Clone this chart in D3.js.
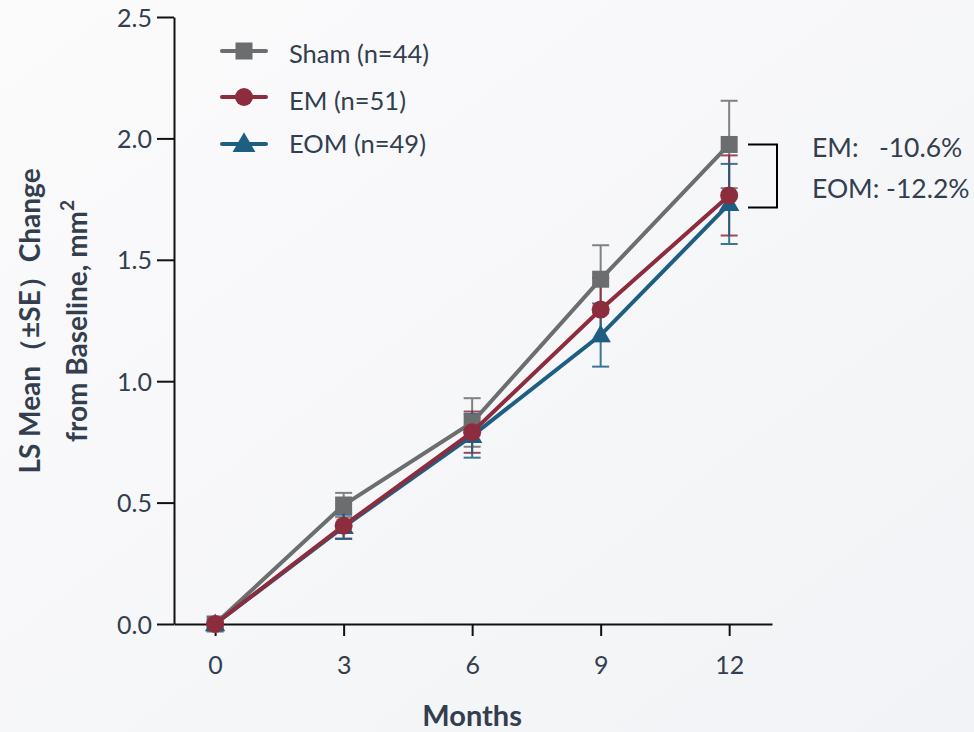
<!DOCTYPE html>
<html><head><meta charset="utf-8">
<script src="https://cdn.jsdelivr.net/npm/d3@7"></script>
<style>body{margin:0;background:#f6f7f9;}svg{display:block;}</style>
</head><body>
<script>
const months = [0, 3, 6, 9, 12];
const shamMean = [0.0, 0.49, 0.83, 1.42, 1.975];
const shamSE   = [0.0, 0.05, 0.10, 0.14, 0.18];
const emMean   = [0.0, 0.405, 0.79, 1.295, 1.765];
const emSE     = [0.0, 0.053, 0.085, 0.13, 0.165];
const eomMean  = [0.0, 0.40, 0.775, 1.19, 1.73];
const eomSE    = [0.0, 0.05, 0.09, 0.13, 0.165];
const yTicks = [0.0, 0.5, 1.0, 1.5, 2.0, 2.5];
const seriesNames = ["Sham (n=44)", "EM (n=51)", "EOM (n=49)"];
const annotLabels = ["EM:   -10.6%", "EOM: -12.2%"];

const W = 974, H = 732;
const textColor = "#333f4f";
const font = "Lato, 'Open Sans', sans-serif";
const series = [
  {name: seriesNames[0], mean: shamMean, se: shamSE, color: "#6b6d6e", shape: "square"},
  {name: seriesNames[1], mean: emMean, se: emSE, color: "#8c2c3c", shape: "circle"},
  {name: seriesNames[2], mean: eomMean, se: eomSE, color: "#1d5f83", shape: "triangle"}
];

const svg = d3.select("body").append("svg").attr("width", W).attr("height", H);
const defs = svg.append("defs");
const grad = defs.append("linearGradient").attr("id","bg").attr("x1","0").attr("y1","0").attr("x2","1").attr("y2","1");
grad.append("stop").attr("offset","0").attr("stop-color","#fbfbfc");
grad.append("stop").attr("offset","1").attr("stop-color","#f2f3f6");
svg.append("rect").attr("width",W).attr("height",H).attr("fill","url(#bg)");

const x = d3.scaleLinear().domain([-0.96, 13.0]).range([174, 772]);
const y = d3.scaleLinear().domain([0, 2.5]).range([624, 17]);

// axes
const xAxis = svg.append("g").attr("transform", `translate(0,${y(0)})`)
  .call(d3.axisBottom(x).tickValues(months).tickSize(12).tickSizeOuter(0).tickFormat(d3.format("d")));
const yAxis = svg.append("g").attr("transform", `translate(${x.range()[0]},0)`)
  .call(d3.axisLeft(y).tickValues(yTicks).tickSize(17).tickSizeOuter(0).tickFormat(d3.format(".1f")));
[xAxis, yAxis].forEach(a => {
  a.select(".domain").attr("stroke", "#111").attr("stroke-width", 2);
  a.selectAll(".tick line").attr("stroke", "#111").attr("stroke-width", 2);
  a.selectAll(".tick text").attr("fill", textColor).attr("font-family", font).attr("font-size", 25);
});
xAxis.selectAll(".tick text").attr("y", 50).attr("dy", 0);
yAxis.selectAll(".tick text").attr("x", -22).attr("dy", "0.36em");

// axis titles
svg.append("text").attr("x", x(6)).attr("y", 726).attr("text-anchor","middle")
  .attr("font-family", font).attr("font-weight", "bold").attr("font-size", 29).attr("fill", textColor).text("Months");
const yl = svg.append("g").attr("transform", "translate(40,321) rotate(-90)");
yl.append("text").attr("x", 0).attr("y", 0).attr("text-anchor","middle")
  .attr("font-family", font).attr("font-weight","bold").attr("font-size", 28).attr("fill", textColor)
  .text("LS Mean（±SE）Change");
const yl2 = yl.append("text").attr("x", 0).attr("y", 47).attr("text-anchor","middle")
  .attr("font-family", font).attr("font-weight","bold").attr("font-size", 28).attr("fill", textColor);
yl2.append("tspan").text("from Baseline, mm");
yl2.append("tspan").attr("dy", -13).attr("font-size", 19).text("2");

function drawMarker(g, shape, cx, cy, color, s) {
  if (shape === "square") {
    g.append("rect").attr("x", cx - s/2).attr("y", cy - s/2).attr("width", s).attr("height", s).attr("fill", color);
  } else if (shape === "circle") {
    g.append("circle").attr("cx", cx).attr("cy", cy).attr("r", s/2 + 0.5).attr("fill", color);
  } else {
    g.append("path").attr("d", `M${cx},${cy - s*0.62}L${cx + s*0.6},${cy + s*0.42}L${cx - s*0.6},${cy + s*0.42}Z`).attr("fill", color);
  }
}

// error bars
series.forEach(s => {
  const g = svg.append("g").attr("opacity", 0.85);
  months.forEach((m, i) => {
    if (s.se[i] <= 0) return;
    const cx = x(m), top = y(s.mean[i] + s.se[i]), bot = y(s.mean[i] - s.se[i]);
    g.append("line").attr("x1", cx).attr("x2", cx).attr("y1", top).attr("y2", bot).attr("stroke", s.color).attr("stroke-width", 2);
    [top, bot].forEach(yy => g.append("line").attr("x1", cx - 8.5).attr("x2", cx + 8.5).attr("y1", yy).attr("y2", yy).attr("stroke", s.color).attr("stroke-width", 2));
  });
});

// lines and markers (Sham, then EOM, then EM on top)
const lineGen = d3.line().x((d, i) => x(months[i])).y(d => y(d));
[series[0], series[2], series[1]].forEach(s => {
  svg.append("path").datum(s.mean).attr("d", lineGen).attr("fill","none").attr("stroke", s.color).attr("stroke-width", 4);
  const g = svg.append("g");
  months.forEach((m, i) => drawMarker(g, s.shape, x(m), y(s.mean[i]), s.color, 17));
});

// legend
const legLineY = [51, 97, 144];
const legTextY = [63, 110, 153];
series.forEach((s, i) => {
  const g = svg.append("g");
  g.append("line").attr("x1", 222).attr("x2", 266).attr("y1", legLineY[i]).attr("y2", legLineY[i]).attr("stroke", s.color).attr("stroke-width", 4).attr("stroke-linecap","round");
  drawMarker(g, s.shape, 244, legLineY[i], s.color, i === 2 ? 19 : 17);
  g.append("text").attr("x", 289).attr("y", legTextY[i]).attr("font-family", font).attr("font-size", 25.5).attr("fill", textColor).text(s.name);
});

// bracket annotation
const by1 = y(shamMean[4]), by2 = y(emMean[4]) + 12;
svg.append("path").attr("d", `M748,${by1}H777V${by2}H748`).attr("fill","none").attr("stroke","#000").attr("stroke-width", 2);
const annotY = [157, 198];
annotLabels.forEach((t, i) => {
  svg.append("text").attr("x", 812).attr("y", annotY[i]).attr("font-family", font).attr("font-size", 26.5).attr("fill", textColor)
    .style("white-space","pre").text(t);
});
</script>
</body></html>
